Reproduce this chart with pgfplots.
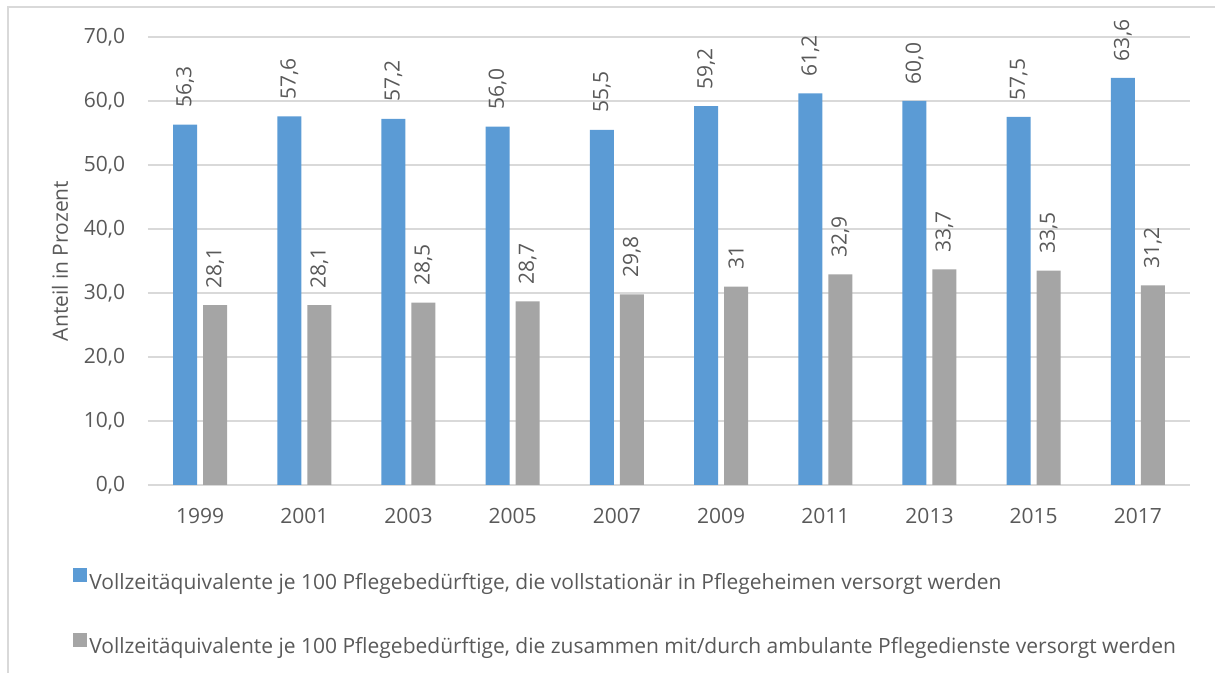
\documentclass[border=0pt]{standalone}
\usepackage{fontspec}
\setmainfont{Open Sans}
\usepackage{pgfplots}
\pgfplotsset{compat=1.18}
\definecolor{barblue}{HTML}{5B9BD5}
\definecolor{bargray}{HTML}{A5A5A5}
\definecolor{gridgray}{HTML}{D9D9D9}
\definecolor{txt}{HTML}{595959}
\newcommand{\chartfont}{\fontsize{15.75}{19}\selectfont}

\begin{document}
\begin{tikzpicture}
\useasboundingbox (-111pt,-141pt) rectangle (800.25pt,363.75pt);
\draw[gridgray, line width=1.1pt] (-105pt,-141pt) -- (-105pt,358.5pt) -- (800.25pt,358.5pt);
\begin{axis}[
  at={(0,0)}, anchor=south west,
  scale only axis,
  width=781.5pt, height=336pt,
  ybar=4.5pt, bar width=18pt,
  xmin=-0.5, xmax=9.5,
  ymin=0, ymax=70,
  xtick={0,...,9},
  xticklabels={1999,2001,2003,2005,2007,2009,2011,2013,2015,2017},
  ytick={0,10,...,70},
  major tick length=0pt,
  axis x line*=bottom, axis y line*=left,
  x axis line style={draw=gridgray, line width=1pt, -},
  y axis line style={draw=none},
  ymajorgrids, grid style={gridgray, line width=1pt},
  font=\chartfont,
  every tick label/.append style={txt},
  /pgf/number format/assume math mode=true,
  yticklabel style={/pgf/number format/fixed, /pgf/number format/fixed zerofill,
    /pgf/number format/precision=1, /pgf/number format/use comma,
    inner sep=0pt, xshift=-17pt},
  xticklabel style={inner sep=0pt, anchor=north, yshift=-17pt},
  ylabel={Anteil in Prozent},
  ylabel style={at={(axis description cs:-0.0845,0.5)}, anchor=center, txt},
  nodes near coords,
  every node near coord/.append style={rotate=90, anchor=west, inner ysep=0pt, inner xsep=12.5pt, txt,
    font=\chartfont},
  legend style={at={(axis description cs:0,0)}, anchor=north west, xshift=-59.25pt, yshift=-60pt,
    draw=none, fill=none, legend columns=1, row sep=31pt, txt,
    font=\chartfont, nodes={inner sep=0pt}},
  legend cell align=left,
  legend image code/.code={\fill[#1] (0pt,0.25pt) rectangle (10.5pt,10.75pt); \path (12pt,5pt);},
]
  \addplot[fill=barblue, draw=none,
    nodes near coords style={/pgf/number format/fixed, /pgf/number format/fixed zerofill,
      /pgf/number format/precision=1, /pgf/number format/use comma}]
    coordinates {(0,56.3) (1,57.6) (2,57.2) (3,56.0) (4,55.5) (5,59.2) (6,61.2) (7,60.0) (8,57.5) (9,63.6)};
  \addplot[fill=bargray, draw=none,
    nodes near coords style={/pgf/number format/fixed,
      /pgf/number format/precision=1, /pgf/number format/use comma}]
    coordinates {(0,28.1) (1,28.1) (2,28.5) (3,28.7) (4,29.8) (5,31) (6,32.9) (7,33.7) (8,33.5) (9,31.2)};
  \legend{{Vollzeitäquivalente je 100 Pflegebedürftige, die vollstationär in Pflegeheimen versorgt werden},
          {Vollzeitäquivalente je 100 Pflegebedürftige, die zusammen mit/durch ambulante Pflegedienste versorgt werden}}
\end{axis}
\end{tikzpicture}
\end{document}
